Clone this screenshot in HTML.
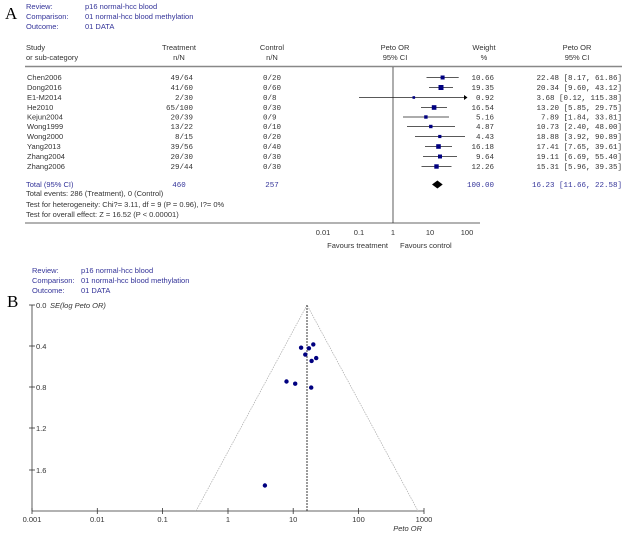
<!DOCTYPE html>
<html><head><meta charset="utf-8"><style>
body{margin:0;background:#fff;}
svg{display:block;font-family:"Liberation Sans",sans-serif;}
.b{fill:#333399;font-size:7.5px;}
.k{fill:#333;font-size:7.5px;}
.m{font-family:"Liberation Mono",monospace;font-size:7.5px;fill:#333;}
.mb{font-family:"Liberation Mono",monospace;font-size:7.5px;fill:#333399;}
</style></head><body>
<svg width="629" height="534" viewBox="0 0 629 534">
<text x="5" y="19" font-family="Liberation Serif" font-size="17" fill="#000">A</text>
<g class="b"><text x="26" y="9">Review:</text><text x="85" y="9">p16 normal-hcc blood</text>
<text x="26" y="19">Comparison:</text><text x="85" y="19">01 normal-hcc blood methylation</text>
<text x="26" y="29">Outcome:</text><text x="85" y="29">01 DATA</text></g>
<g class="k"><text x="26" y="50">Study</text><text x="26" y="60">or sub-category</text>
<text x="179" y="50" text-anchor="middle">Treatment</text><text x="179" y="60" text-anchor="middle">n/N</text>
<text x="272" y="50" text-anchor="middle">Control</text><text x="272" y="60" text-anchor="middle">n/N</text>
<text x="395" y="50" text-anchor="middle">Peto OR</text><text x="395" y="60" text-anchor="middle">95% CI</text>
<text x="484" y="50" text-anchor="middle">Weight</text><text x="484" y="60" text-anchor="middle">%</text>
<text x="577" y="50" text-anchor="middle">Peto OR</text><text x="577" y="60" text-anchor="middle">95% CI</text></g>
<line x1="25" y1="66.5" x2="622" y2="66.5" stroke="#888" stroke-width="1.5"/>
<line x1="393" y1="67" x2="393" y2="223" stroke="#333" stroke-width="0.8"/>
<line x1="25" y1="223" x2="480" y2="223" stroke="#333" stroke-width="0.8"/>
<g class="k">
<text x="27" y="80">Chen2006</text><text x="27" y="90">Dong2016</text><text x="27" y="100">E1-M2014</text><text x="27" y="110">He2010</text><text x="27" y="119.5">Kejun2004</text><text x="27" y="129">Wong1999</text><text x="27" y="139">Wong2000</text><text x="27" y="149">Yang2013</text><text x="27" y="159">Zhang2004</text><text x="27" y="169">Zhang2006</text>
</g>
<g class="m" text-anchor="end">
<text x="193" y="80">49/64</text><text x="193" y="90">41/60</text><text x="193" y="100">2/30</text><text x="193" y="110">65/100</text><text x="193" y="119.5">20/39</text><text x="193" y="129">13/22</text><text x="193" y="139">8/15</text><text x="193" y="149">39/56</text><text x="193" y="159">20/30</text><text x="193" y="169">29/44</text>
</g>
<g class="m">
<text x="263" y="80">0/20</text><text x="263" y="90">0/60</text><text x="263" y="100">0/8</text><text x="263" y="110">0/30</text><text x="263" y="119.5">0/9</text><text x="263" y="129">0/10</text><text x="263" y="139">0/20</text><text x="263" y="149">0/40</text><text x="263" y="159">0/30</text><text x="263" y="169">0/30</text>
</g>
<g class="m" text-anchor="end">
<text x="494" y="80">10.66</text><text x="494" y="90">19.35</text><text x="494" y="100">0.92</text><text x="494" y="110">16.54</text><text x="494" y="119.5">5.16</text><text x="494" y="129">4.87</text><text x="494" y="139">4.43</text><text x="494" y="149">16.18</text><text x="494" y="159">9.64</text><text x="494" y="169">12.26</text>
<text x="622" y="80">22.48 [8.17, 61.86]</text><text x="622" y="90">20.34 [9.60, 43.12]</text><text x="622" y="100">3.68 [0.12, 115.38]</text><text x="622" y="110">13.20 [5.85, 29.75]</text><text x="622" y="119.5">7.89 [1.84, 33.81]</text><text x="622" y="129">10.73 [2.40, 48.00]</text><text x="622" y="139">18.88 [3.92, 90.89]</text><text x="622" y="149">17.41 [7.65, 39.61]</text><text x="622" y="159">19.11 [6.69, 55.40]</text><text x="622" y="169">15.31 [5.96, 39.35]</text>
</g>
<g stroke="#222" stroke-width="0.8">
<line x1="426.5" y1="77.5" x2="458.7" y2="77.5"/><line x1="429" y1="87.5" x2="453" y2="87.5"/><line x1="359" y1="97.5" x2="464" y2="97.5"/><line x1="421" y1="107.5" x2="447" y2="107.5"/><line x1="403" y1="117" x2="449" y2="117"/><line x1="407" y1="126.5" x2="455" y2="126.5"/><line x1="415" y1="136.5" x2="465" y2="136.5"/><line x1="425" y1="146.5" x2="452" y2="146.5"/><line x1="423" y1="156.5" x2="457" y2="156.5"/><line x1="421.5" y1="166.5" x2="451.5" y2="166.5"/>
</g>
<polygon points="464,95 467.5,97.5 464,100" fill="#000"/>
<g fill="#000080">
<rect x="440.6" y="75.5" width="4" height="4"/><rect x="438.5" y="85" width="5" height="5"/><rect x="412.5" y="96.2" width="2.6" height="2.6"/><rect x="431.8" y="105.2" width="4.6" height="4.6"/><rect x="424.2" y="115.3" width="3.4" height="3.4"/><rect x="429.1" y="124.8" width="3.4" height="3.4"/><rect x="438.2" y="134.9" width="3.2" height="3.2"/><rect x="436.2" y="144.2" width="4.6" height="4.6"/><rect x="438" y="154.5" width="4" height="4"/><rect x="434.3" y="164.3" width="4.4" height="4.4"/>
</g>
<polygon points="432,184.5 437.4,180.5 442.7,184.5 437.4,188.5" fill="#000"/>
<text class="b" x="26" y="187">Total (95% CI)</text>
<text class="mb" x="179" y="187" text-anchor="middle">460</text>
<text class="mb" x="272" y="187" text-anchor="middle">257</text>
<text class="mb" x="494" y="187" text-anchor="end">100.00</text>
<text class="mb" x="622" y="187" text-anchor="end">16.23 [11.66, 22.58]</text>
<g class="k"><text x="26" y="196">Total events: 286 (Treatment), 0 (Control)</text>
<text x="26" y="207">Test for heterogeneity: Chi?= 3.11, df = 9 (P = 0.96), I?= 0%</text>
<text x="26" y="217">Test for overall effect: Z = 16.52 (P &lt; 0.00001)</text>
<text x="323" y="235" text-anchor="middle">0.01</text><text x="359" y="235" text-anchor="middle">0.1</text><text x="393" y="235" text-anchor="middle">1</text><text x="430" y="235" text-anchor="middle">10</text><text x="467" y="235" text-anchor="middle">100</text>
<text x="388" y="248" text-anchor="end">Favours treatment</text><text x="400" y="248">Favours control</text></g>

<text x="7" y="307" font-family="Liberation Serif" font-size="17" fill="#000">B</text>
<g class="b"><text x="32" y="273">Review:</text><text x="81" y="273">p16 normal-hcc blood</text>
<text x="32" y="283">Comparison:</text><text x="81" y="283">01 normal-hcc blood methylation</text>
<text x="32" y="293">Outcome:</text><text x="81" y="293">01 DATA</text></g>
<g stroke="#333" stroke-width="0.8">
<line x1="32" y1="305" x2="32" y2="511"/><line x1="32" y1="511" x2="424" y2="511"/>
<line x1="29" y1="305" x2="35" y2="305"/><line x1="29" y1="346" x2="35" y2="346"/><line x1="29" y1="387" x2="35" y2="387"/><line x1="29" y1="428" x2="35" y2="428"/><line x1="29" y1="470" x2="35" y2="470"/>
<line x1="32" y1="508" x2="32" y2="514"/><line x1="97.3" y1="508" x2="97.3" y2="514"/><line x1="162.6" y1="508" x2="162.6" y2="514"/><line x1="228" y1="508" x2="228" y2="514"/><line x1="293.2" y1="508" x2="293.2" y2="514"/><line x1="358.5" y1="508" x2="358.5" y2="514"/><line x1="424" y1="508" x2="424" y2="514"/>
</g>
<polyline points="196,511 307,305 418,511" fill="none" stroke="#aaa" stroke-width="0.7" stroke-dasharray="1.5,1"/>
<line x1="307" y1="305" x2="307" y2="511" stroke="#222" stroke-width="0.9" stroke-dasharray="2,1"/>
<g class="k"><text x="36" y="308">0.0</text><text x="36" y="349">0.4</text><text x="36" y="390">0.8</text><text x="36" y="431">1.2</text><text x="36" y="473">1.6</text>
<text x="50" y="308" font-style="italic">SE(log Peto OR)</text>
<text x="32" y="522" text-anchor="middle">0.001</text><text x="97.3" y="522" text-anchor="middle">0.01</text><text x="162.6" y="522" text-anchor="middle">0.1</text><text x="228" y="522" text-anchor="middle">1</text><text x="293.2" y="522" text-anchor="middle">10</text><text x="358.5" y="522" text-anchor="middle">100</text><text x="424" y="522" text-anchor="middle">1000</text>
<text x="422" y="531" text-anchor="end" font-style="italic">Peto OR</text></g>
<g fill="#000080">
<circle cx="316.2" cy="358.1" r="2.2"/><circle cx="313.3" cy="344.4" r="2.2"/><circle cx="264.9" cy="485.5" r="2.2"/><circle cx="301.1" cy="347.7" r="2.2"/><circle cx="286.5" cy="381.5" r="2.2"/><circle cx="295.2" cy="383.7" r="2.2"/><circle cx="311.2" cy="387.6" r="2.2"/><circle cx="308.9" cy="348.3" r="2.2"/><circle cx="311.6" cy="360.9" r="2.2"/><circle cx="305.3" cy="354.6" r="2.2"/>
</g>
</svg>
</body></html>
